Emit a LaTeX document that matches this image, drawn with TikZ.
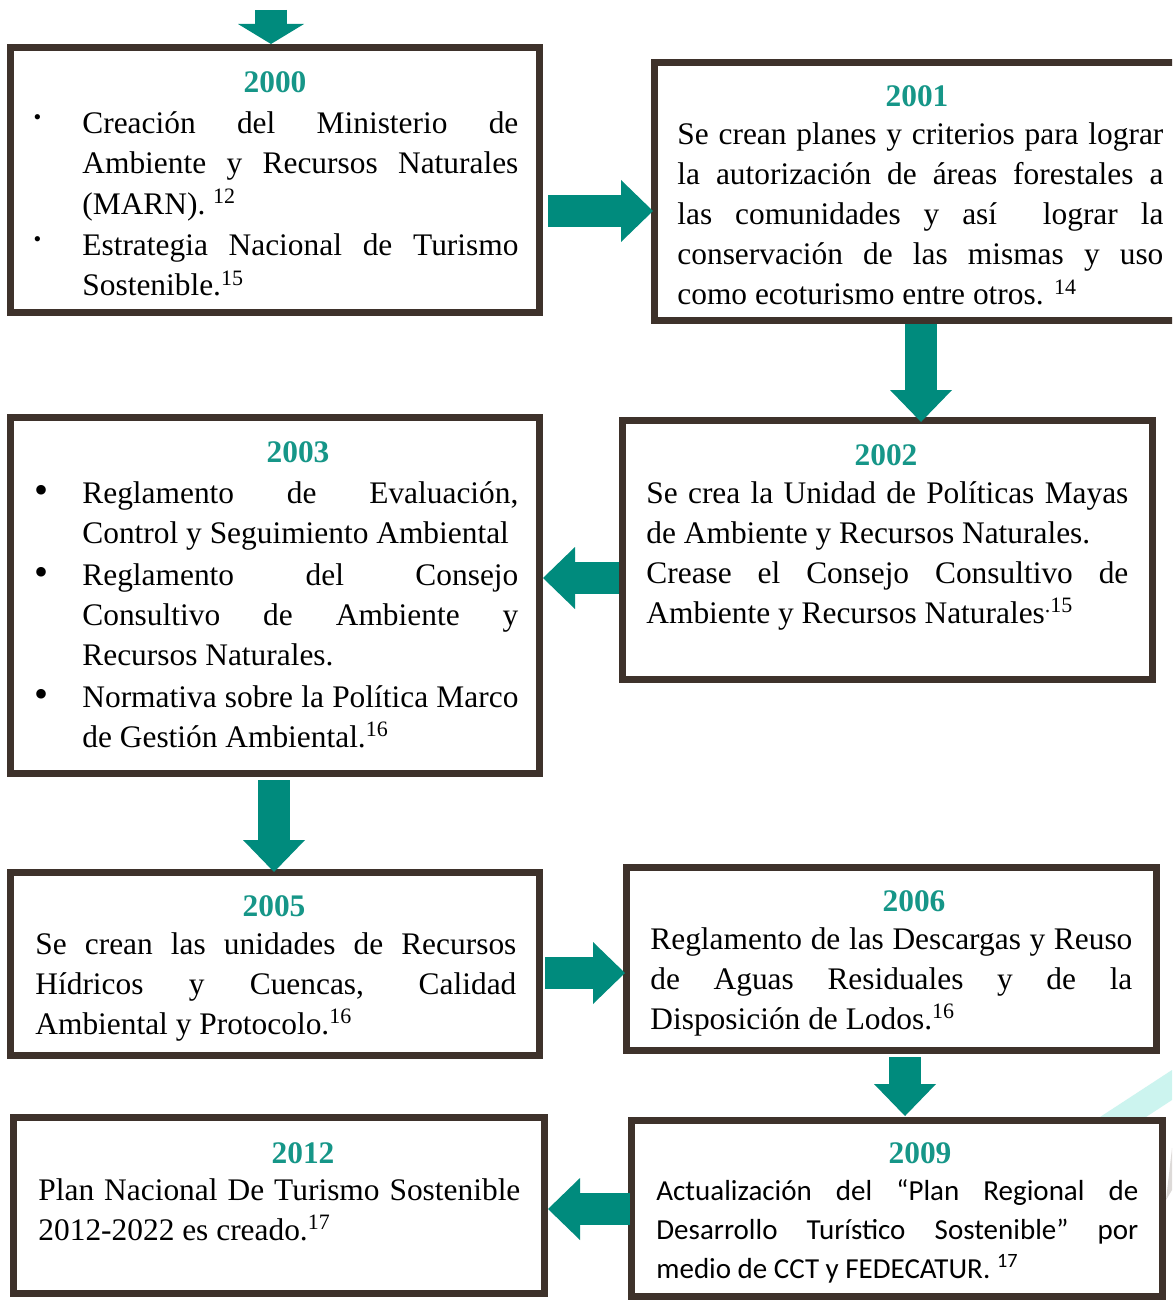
\documentclass[tikz,border=0pt]{standalone}
\usepackage{fontspec}
\setmainfont{Liberation Serif}
\newfontfamily\sansbody{Carlito}
\usetikzlibrary{arrows.meta,calc}
\definecolor{tealarrow}{RGB}{0,139,125}
\definecolor{tealtext}{RGB}{22,150,136}
\definecolor{boxbrown}{RGB}{62,50,43}
\definecolor{bandcyan}{RGB}{204,244,239}
\definecolor{bandgray}{RGB}{221,218,216}
\tikzset{
    yearbox/.style={draw=boxbrown,line width=3.5pt,fill=white,inner sep=0pt},
    yeartitle/.style={font=\fontsize{15.7}{20}\selectfont\bfseries,text=tealtext,anchor=base,inner sep=0pt},
    bodytext/.style={font=\fontsize{15.7}{20}\selectfont,align=justify,anchor=base west,inner sep=0pt},
    blockarrow/.style={draw=tealarrow,line width=16pt,-{Triangle[length=16pt,width=31pt,line width=0pt]}}
}
\newcommand{\dotitem}{\leavevmode\llap{\raisebox{4.5pt}{\fontsize{11}{11}\selectfont\textbullet}\hspace{20.5pt}}}
\newcommand{\bigitem}{\leavevmode\llap{{\fontsize{20}{20}\selectfont\textbullet}\hspace{17pt}}}

\begin{document}
\begin{tikzpicture}[x=0.5pt,y=-0.5pt]
    \useasboundingbox (0,0) rectangle (1172,1300);
    \clip (0,0) rectangle (1172,1300);
    \fill[white] (0,0) rectangle (1172,1300);

    % background bands
    \fill[bandcyan] (1100,1117) -- (1172,1070) -- (1172,1100) -- (1146,1117) -- cycle;
    \fill[bandgray] (1166,1200) -- (1172,1148) -- (1172,1190) -- cycle;

    % Boxes
    \node[yearbox,minimum width=264.5pt,minimum height=132.5pt] (b2000) at (275,180) {};
    \node[yearbox,minimum width=266pt,minimum height=129pt] (b2001) at (920.5,191.5) {};
    \node[yearbox,minimum width=265pt,minimum height=129.5pt] (b2002) at (887.5,550) {};
    \node[yearbox,minimum width=264.5pt,minimum height=178pt] (b2003) at (275,595.5) {};
    \node[yearbox,minimum width=264.5pt,minimum height=91.5pt] (b2005) at (275,964) {};
    \node[yearbox,minimum width=265pt,minimum height=91.5pt] (b2006) at (891.5,959) {};
    \node[yearbox,minimum width=265.5pt,minimum height=88pt] (b2009) at (897,1208.5) {};
    \node[yearbox,minimum width=265.5pt,minimum height=88pt] (b2012) at (279,1205.5) {};

    % Years
    \node[yeartitle] (t2000) at (275,93) {2000};
    \node[yeartitle] (t2001) at (917,107) {2001};
    \node[yeartitle] (t2002) at (886,465) {2002};
    \node[yeartitle] (t2003) at (298,462) {2003};
    \node[yeartitle] (t2005) at (274,916) {2005};
    \node[yeartitle] (t2006) at (914,911) {2006};
    \node[yeartitle] (t2009) at (920,1163) {2009};
    \node[yeartitle] (t2012) at (303,1163) {2012};

    % Texts
    \node[bodytext,text width=218pt] (x2000) at (82,134) {\dotitem Creación del Ministerio de\linebreak Ambiente y Recursos Naturales\linebreak (MARN). \textsuperscript{12}\par\vspace{1pt}
        \dotitem Estrategia Nacional de Turismo\linebreak Sostenible.\textsuperscript{15}};
    \node[bodytext,text width=243pt] (x2001) at (677,145) {Se crean planes y criterios para lograr\linebreak la autorización de áreas forestales a\linebreak las comunidades y así \ lograr la\linebreak conservación de las mismas y uso\linebreak como ecoturismo entre otros. \textsuperscript{14}};
    \node[bodytext,text width=241pt] (x2002) at (646,503) {Se crea la Unidad de Políticas Mayas\linebreak de Ambiente y Recursos Naturales.\par
        Crease el Consejo Consultivo de\linebreak Ambiente y Recursos Naturales\textsuperscript{.15}};
    \node[bodytext,text width=218pt] (x2003) at (82,503) {\bigitem Reglamento de Evaluación,\linebreak Control y Seguimiento Ambiental\par\vspace{1pt}
        \bigitem Reglamento del Consejo\linebreak Consultivo de Ambiente y\linebreak Recursos Naturales.\par\vspace{1pt}
        \bigitem Normativa sobre la Política Marco\linebreak de Gestión Ambiental.\textsuperscript{16}};
    \node[bodytext,text width=240.5pt] (x2005) at (35,954) {Se crean las unidades de Recursos\linebreak Hídricos y Cuencas, Calidad\linebreak Ambiental y Protocolo.\textsuperscript{16}};
    \node[bodytext,text width=241pt] (x2006) at (650,949) {Reglamento de las Descargas y Reuso\linebreak de Aguas Residuales y de la\linebreak Disposición de Lodos.\textsuperscript{16}};
    \node[bodytext,text width=241pt,font=\sansbody\fontsize{14.5}{19.5}\selectfont] (x2009) at (656,1200) {Actualización del “Plan Regional de\linebreak Desarrollo Turístico Sostenible” por\linebreak medio de CCT y FEDECATUR. \textsuperscript{17}};
    \node[bodytext,text width=241pt] (x2012) at (38,1200) {Plan Nacional De Turismo Sostenible\linebreak 2012-2022 es creado.\textsuperscript{17}};

    % Arrows
    \coordinate (entry) at (271,10);
    \draw[blockarrow,-{Triangle[length=10pt,width=33pt,line width=0pt]}] (entry) -- (entry |- b2000.north);
    \draw[blockarrow] ($(b2000.east)+(5,31)$) -- ($(b2001.west)+(2,19.5)$);
    \draw[blockarrow] ($(b2001.south)+(0.5,0)$) -- ($(b2002.north)+(33.5,5)$);
    \draw[blockarrow] ($(b2002.west)+(0,28)$) -- ($(b2003.east)+(0,-17.5)$);
    \draw[blockarrow] ($(b2003.south)+(-1,3)$) -- ($(b2005.north)+(-1,3)$);
    \draw[blockarrow] ($(b2005.east)+(2,9)$) -- ($(b2006.west)+(2,14)$);
    \draw[blockarrow] ($(b2006.south)+(13.5,3)$) -- ($(b2009.north)+(8,-1)$);
    \draw[blockarrow] ($(b2009.west)+(2,0.5)$) -- ($(b2012.east)+(0,3.5)$);
\end{tikzpicture}
\end{document}
